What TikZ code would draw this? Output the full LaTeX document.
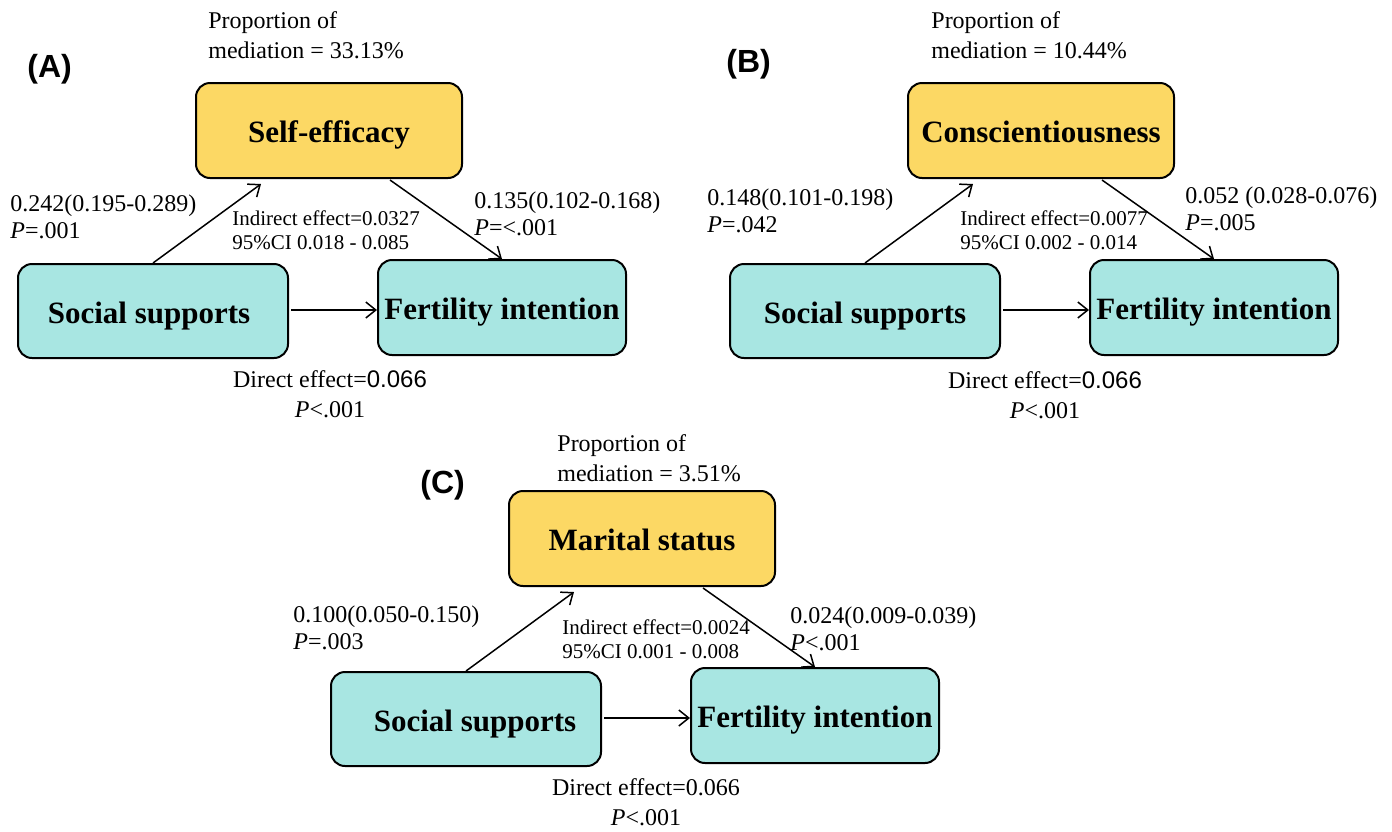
\documentclass[tikz,border=0pt]{standalone}
\usepackage{fontspec}
\setmainfont{Liberation Serif}
\newfontfamily\arialf{Liberation Sans}
\usetikzlibrary{arrows.meta,calc}
\definecolor{medfill}{RGB}{252,216,100}
\definecolor{varfill}{RGB}{168,230,226}
\tikzset{
  box/.style={draw=black, line width=1pt, rounded corners=7pt, inner sep=0pt,
    text height=13pt, text depth=1pt,
    font=\fontsize{15.5pt}{18pt}\selectfont\bfseries},
  medbox/.style={box, fill=medfill, minimum width=133pt, minimum height=47.5pt},
  srcbox/.style={box, fill=varfill, minimum width=135pt, minimum height=47pt},
  outbox/.style={box, fill=varfill, minimum width=124pt, minimum height=47.5pt},
  arr/.style={line width=0.75pt, -{Straight Barb[length=5pt,width=8pt]}},
  panellabel/.style={anchor=base west, inner sep=0pt, font=\arialf\bfseries\fontsize{16pt}{18pt}\selectfont},
  prop/.style={anchor=base west, inner sep=0pt, align=left, font=\fontsize{12pt}{15pt}\selectfont},
  coef/.style={anchor=base west, inner sep=0pt, align=left, font=\fontsize{12pt}{13.5pt}\selectfont},
  indir/.style={anchor=base west, inner sep=0pt, align=left, font=\fontsize{10.5pt}{12pt}\selectfont},
  direct/.style={anchor=base, inner sep=0pt, align=center, font=\fontsize{12pt}{15pt}\selectfont},
}
\begin{document}
\begin{tikzpicture}[x=0.5pt, y=-0.5pt]
\useasboundingbox (0,0) rectangle (1392,831);

% ---------- Panel A ----------
\node[medbox] (am) at (329,130.5) {Self-efficacy};
\node[srcbox] (as) at (153,311) {Social supports\hspace*{4pt}};
\node[outbox] (af) at (502,307.5) {Fertility intention};
\draw[arr] (as.north) -- ($(am.south west)+(66,5)$);
\draw[arr] ($(am.south west)+(195,1)$) -- (af.north);
\coordinate (ah) at ($(as.east)+(2,-1)$);
\draw[arr] (ah) -- (ah -| af.west);
\node[panellabel] (alab) at (27,77) {(A)};
\node[prop] (aprop) at (208,58) {Proportion of\\mediation = 33.13\%};
\node[coef] (aa) at (10,238) {0.242(0.195-0.289)\\\textit{P}=.001};
\node[indir] (aind) at (232,249) {Indirect effect=0.0327\\95\%CI 0.018 - 0.085};
\node[coef] (ab) at (474,235) {0.135(0.102-0.168)\\\textit{P}=<.001};
\node[direct] (adir) at (330,417) {Direct effect={\arialf 0.066}\\\textit{P}<.001};

% ---------- Panel B ----------
\begin{scope}[shift={(712,0)}]
\node[medbox] (bm) at (329,130.5) {Conscientiousness};
\node[srcbox] (bs) at (153,311) {Social supports};
\node[outbox] (bf) at (502,307.5) {Fertility intention};
\draw[arr] (bs.north) -- ($(bm.south west)+(66,5)$);
\draw[arr] ($(bm.south west)+(195,1)$) -- (bf.north);
\coordinate (bh) at ($(bs.east)+(2,-1)$);
\draw[arr] (bh) -- (bh -| bf.west);
\end{scope}
\node[panellabel] (blab) at (726,72) {(B)};
\node[prop] (bprop) at (931,58) {Proportion of\\mediation = 10.44\%};
\node[coef] (ba) at (707,232) {0.148(0.101-0.198)\\\textit{P}=.042};
\node[indir] (bind) at (960,249) {Indirect effect=0.0077\\95\%CI 0.002 - 0.014};
\node[coef] (bb) at (1185,230) {0.052 (0.028-0.076)\\\textit{P}=.005};
\node[direct] (bdir) at (1045,418) {Direct effect={\arialf 0.066}\\\textit{P}<.001};

% ---------- Panel C ----------
\begin{scope}[shift={(313,408)}]
\node[medbox] (cm) at (329,130.5) {Marital status};
\node[srcbox] (cs) at (153,311) {\hspace*{9pt}Social supports};
\node[outbox] (cf) at (502,307.5) {Fertility intention};
\draw[arr] (cs.north) -- ($(cm.south west)+(66,5)$);
\draw[arr] ($(cm.south west)+(195,1)$) -- (cf.north);
\coordinate (ch) at ($(cs.east)+(2,-1)$);
\draw[arr] (ch) -- (ch -| cf.west);
\end{scope}
\node[panellabel] (clab) at (420,493) {(C)};
\node[prop] (cprop) at (557,481) {Proportion of\\mediation = 3.51\%};
\node[coef] (ca) at (293,649) {0.100(0.050-0.150)\\\textit{P}=.003};
\node[indir] (cind) at (562,658) {Indirect effect=0.0024\\95\%CI 0.001 - 0.008};
\node[coef] (cb) at (790,650) {0.024(0.009-0.039)\\\textit{P}<.001};
\node[direct] (cdir) at (646,825) {Direct effect=0.066\\\textit{P}<.001};
\end{tikzpicture}
\end{document}
